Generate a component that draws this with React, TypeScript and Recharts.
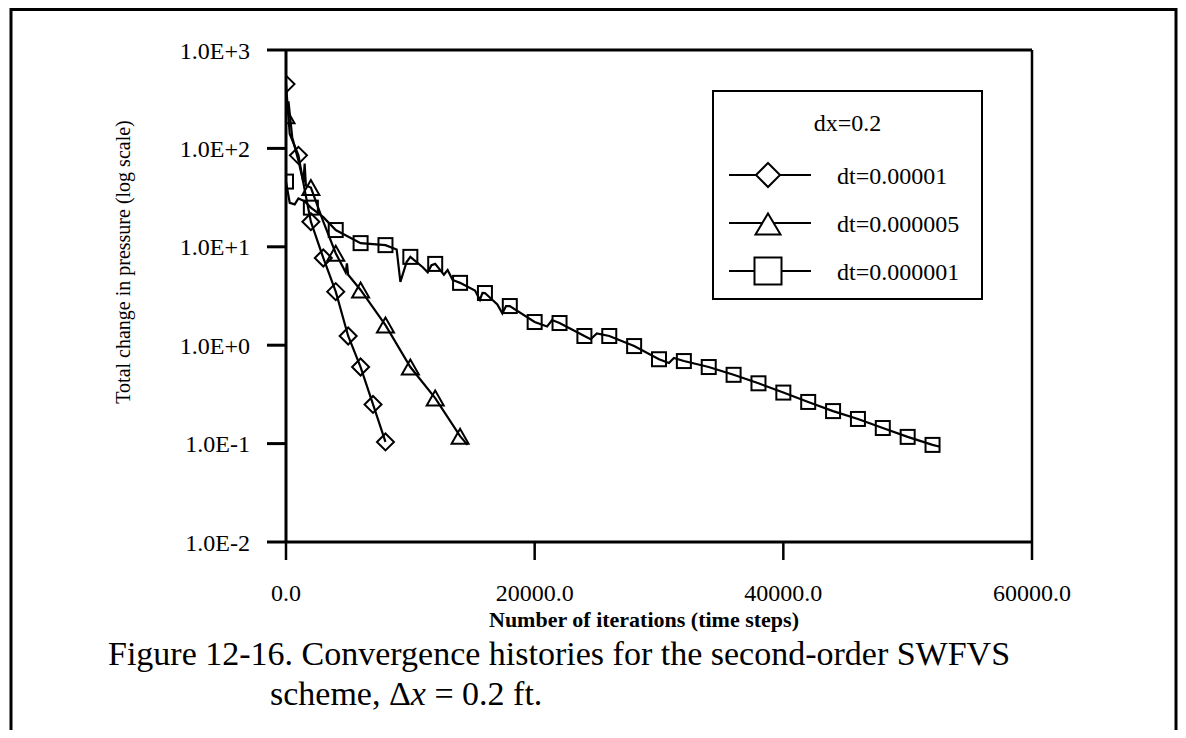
import { LineChart, Line, XAxis, YAxis, ReferenceLine, Legend, Label } from "recharts";

// dt=0.00001 (diamonds)
const diamondMarkX = [0, 1000, 2000, 3000, 4000, 5000, 6000, 7000, 8000];
const diamondMarkY = [450, 85, 18, 7.7, 3.5, 1.24, 0.6, 0.25, 0.104];
const diamondTraceX = [300, 1500];
const diamondTraceY = [140, 38];

// dt=0.000005 (triangles)
const triangleMarkX = [0, 2000, 4000, 6000, 8000, 10000, 12000, 14000];
const triangleMarkY = [215, 40, 8.6, 3.64, 1.6, 0.6, 0.29, 0.119];
const triangleTraceX = [200, 500, 1000, 1400, 1500, 1600, 3000, 4800, 4900, 5000, 14600];
const triangleTraceY = [300, 130, 75, 45, 70, 42, 18, 5.5, 6.8, 5.2, 0.097];

// dt=0.000001 (squares)
const squareMarkX = [
  0, 2000, 4000, 6000, 8000, 10000, 12000, 14000, 16000, 18000, 20000, 22000, 24000, 26000,
  28000, 30000, 32000, 34000, 36000, 38000, 40000, 42000, 44000, 46000, 48000, 50000, 52000,
];
const squareMarkY = [
  46, 25, 14.8, 10.9, 10.4, 7.9, 6.7, 4.3, 3.39, 2.5, 1.72, 1.68, 1.24, 1.24,
  0.98, 0.72, 0.69, 0.6, 0.5, 0.41, 0.33, 0.265, 0.214, 0.178, 0.144, 0.117, 0.097,
];
const squareTraceX = [
  300, 700, 1000, 1500, 3000, 8900, 9200, 9700, 11000, 11400, 11700, 12700, 13000, 13400,
  15200, 15600, 15800, 17000, 17400, 17700, 21000, 21400, 24500, 25000, 30800, 31200, 52600,
];
const squareTraceY = [
  28, 27, 31, 29, 20, 9.4, 4.4, 7.0, 6.2, 5.5, 6.5, 5.2, 5.8, 4.6,
  3.6, 2.9, 3.4, 2.6, 2.1, 2.5, 1.55, 1.8, 1.15, 1.32, 0.66, 0.74, 0.093,
];

const xTicks = [0, 20000, 40000, 60000];
const yTicks = [0.01, 0.1, 1, 10, 100, 1000];
const legendTitle = "dx=0.2";
const seriesNames = ["dt=0.00001", "dt=0.000005", "dt=0.000001"];

const toPoints = (xs: number[], ys: number[]) => xs.map((x, i) => ({ x, y: ys[i] }));
const withTrace = (a: { x: number; y: number }[], b: { x: number; y: number }[]) =>
  [...a, ...b].sort((p, q) => p.x - q.x);

const diamondMarks = toPoints(diamondMarkX, diamondMarkY);
const triangleMarks = toPoints(triangleMarkX, triangleMarkY);
const squareMarks = toPoints(squareMarkX, squareMarkY);
const diamondLine = withTrace(diamondMarks, toPoints(diamondTraceX, diamondTraceY));
const triangleLine = withTrace(triangleMarks, toPoints(triangleTraceX, triangleTraceY));
const squareLine = withTrace(squareMarks, toPoints(squareTraceX, squareTraceY));

const SERIF = '"Liberation Serif", "Times New Roman", serif';

type Mk = { cx: number; cy: number; fill?: string };

function Diamond({ cx, cy, r = 8.5, fill = "none" }: Mk & { r?: number }) {
  return (
    <path
      d={`M${cx},${cy - r}L${cx + r},${cy}L${cx},${cy + r}L${cx - r},${cy}Z`}
      fill={fill}
      stroke="#000"
      strokeWidth={2}
    />
  );
}

function Triangle({ cx, cy, w = 17, h = 15, fill = "none" }: Mk & { w?: number; h?: number }) {
  return (
    <path
      d={`M${cx},${cy - h / 2}L${cx + w / 2},${cy + h / 2}L${cx - w / 2},${cy + h / 2}Z`}
      fill={fill}
      stroke="#000"
      strokeWidth={2}
    />
  );
}

function Square({ cx, cy, s = 14, fill = "none" }: Mk & { s?: number }) {
  return <rect x={cx - s / 2} y={cy - s / 2} width={s} height={s} fill={fill} stroke="#000" strokeWidth={2} />;
}

const dotOf = (kind: string) => (props: any) => {
  const { cx, cy, index } = props;
  if (cx == null || cy == null) return <g key={index} />;
  if (kind === "diamond") return <Diamond key={index} cx={cx} cy={cy} />;
  if (kind === "triangle") return <Triangle key={index} cx={cx} cy={cy} />;
  return <Square key={index} cx={cx} cy={cy} />;
};

const fmtY = (v: number) => {
  const e = Math.round(Math.log10(v));
  return `1.0E${e >= 0 ? "+" : "-"}${Math.abs(e)}`;
};

function LegendBox() {
  const icons = [
    <Diamond cx={41} cy={14} r={12} fill="#fff" />,
    <Triangle cx={41} cy={15} w={25} h={21} fill="#fff" />,
    <Square cx={41} cy={14} s={27} fill="#fff" />,
  ];
  return (
    <div
      style={{
        width: 271,
        height: 210,
        border: "2px solid #000",
        boxSizing: "border-box",
        background: "#fff",
        fontFamily: SERIF,
        fontSize: 24,
        color: "#000",
        position: "relative",
      }}
    >
      <div style={{ position: "absolute", top: 16, left: 0, width: "100%", textAlign: "center", lineHeight: "30px" }}>
        {legendTitle}
      </div>
      {seriesNames.map((name, i) => (
        <div key={name} style={{ position: "absolute", left: 13, top: 69 + i * 48, height: 30, display: "flex", alignItems: "center" }}>
          <svg width={86} height={30} style={{ overflow: "visible" }}>
            <line x1={2} x2={84} y1={14} y2={14} stroke="#000" strokeWidth={2} />
            {icons[i]}
          </svg>
          <span style={{ marginLeft: 24, lineHeight: "30px" }}>{name}</span>
        </div>
      ))}
    </div>
  );
}

export default function App() {
  return (
    <div
      style={{
        position: "relative",
        width: 1186,
        height: 738,
        margin: -8,
        overflow: "hidden",
        background: "#fff",
        fontFamily: SERIF,
      }}
    >
      <div style={{ position: "absolute", left: 0, top: 0 }}>
        <LineChart width={1186} height={640} margin={{ top: 50, right: 154, bottom: 0, left: 0 }}>
          <XAxis
            dataKey="x"
            type="number"
            domain={[0, 60000]}
            ticks={xTicks}
            tickFormatter={(v: number) => v.toFixed(1)}
            tickSize={18}
            tickMargin={24}
            height={98}
            axisLine={{ stroke: "#000", strokeWidth: 3 }}
            tickLine={{ stroke: "#000", strokeWidth: 2.5 }}
            tick={{ fill: "#000", fontSize: 24, fontFamily: SERIF }}
            allowDataOverflow
          >
            <Label
              content={() => (
                <text x={644} y={627} textAnchor="middle" fontFamily={SERIF} fontWeight="bold" fontSize={22} fill="#000">
                  Number of iterations (time steps)
                </text>
              )}
            />
          </XAxis>
          <YAxis
            dataKey="y"
            scale="log"
            domain={[0.01, 1000]}
            ticks={yTicks}
            tickFormatter={fmtY}
            width={286}
            tickSize={19}
            tickMargin={17}
            axisLine={{ stroke: "#000", strokeWidth: 3 }}
            tickLine={{ stroke: "#000", strokeWidth: 3 }}
            tick={{ fill: "#000", fontSize: 24, fontFamily: SERIF }}
            allowDataOverflow
          >
            <Label
              content={() => (
                <text
                  x={123}
                  y={262}
                  transform="rotate(-90 123 262)"
                  textAnchor="middle"
                  dominantBaseline="central"
                  fontFamily={SERIF}
                  fontSize={20}
                  fill="#000"
                >
                  Total change in pressure (log scale)
                </text>
              )}
            />
          </YAxis>
          <ReferenceLine y={1000} stroke="#000" strokeWidth={3} />
          <ReferenceLine x={60000} stroke="#000" strokeWidth={2.5} />
          <Legend
            layout="vertical"
            align="center"
            verticalAlign="middle"
            content={() => <LegendBox />}
            wrapperStyle={{ left: 712, top: 90, width: 271, height: 210 }}
          />
          <Line data={squareLine} dataKey="y" stroke="#000" strokeWidth={2.2} dot={false} isAnimationActive={false} legendType="none" />
          <Line data={triangleLine} dataKey="y" stroke="#000" strokeWidth={2.2} dot={false} isAnimationActive={false} legendType="none" />
          <Line data={diamondLine} dataKey="y" stroke="#000" strokeWidth={2.2} dot={false} isAnimationActive={false} legendType="none" />
          <Line data={squareMarks} dataKey="y" stroke="none" dot={dotOf("square")} isAnimationActive={false} legendType="none" />
          <Line data={triangleMarks} dataKey="y" stroke="none" dot={dotOf("triangle")} isAnimationActive={false} legendType="none" />
          <Line data={diamondMarks} dataKey="y" stroke="none" dot={dotOf("diamond")} isAnimationActive={false} legendType="none" />
        </LineChart>
      </div>
      <div style={{ position: "absolute", left: 108, top: 634, fontSize: 34, lineHeight: "40px", color: "#000", whiteSpace: "nowrap" }}>
        Figure 12-16. Convergence histories for the second-order SWFVS
      </div>
      <div style={{ position: "absolute", left: 270, top: 674, fontSize: 34, lineHeight: "40px", color: "#000", whiteSpace: "nowrap" }}>
        scheme, Δ<i>x</i> = 0.2 ft.
      </div>
      {/* page frame of the scanned figure */}
      <svg
        width={1186}
        height={738}
        style={{ position: "absolute", left: 0, top: 0, pointerEvents: "none", zIndex: 3 }}
      >
        <polyline points="11,738 11,9.5 1176,9.5 1176,738" fill="none" stroke="#000" strokeWidth={3} />
      </svg>
    </div>
  );
}
